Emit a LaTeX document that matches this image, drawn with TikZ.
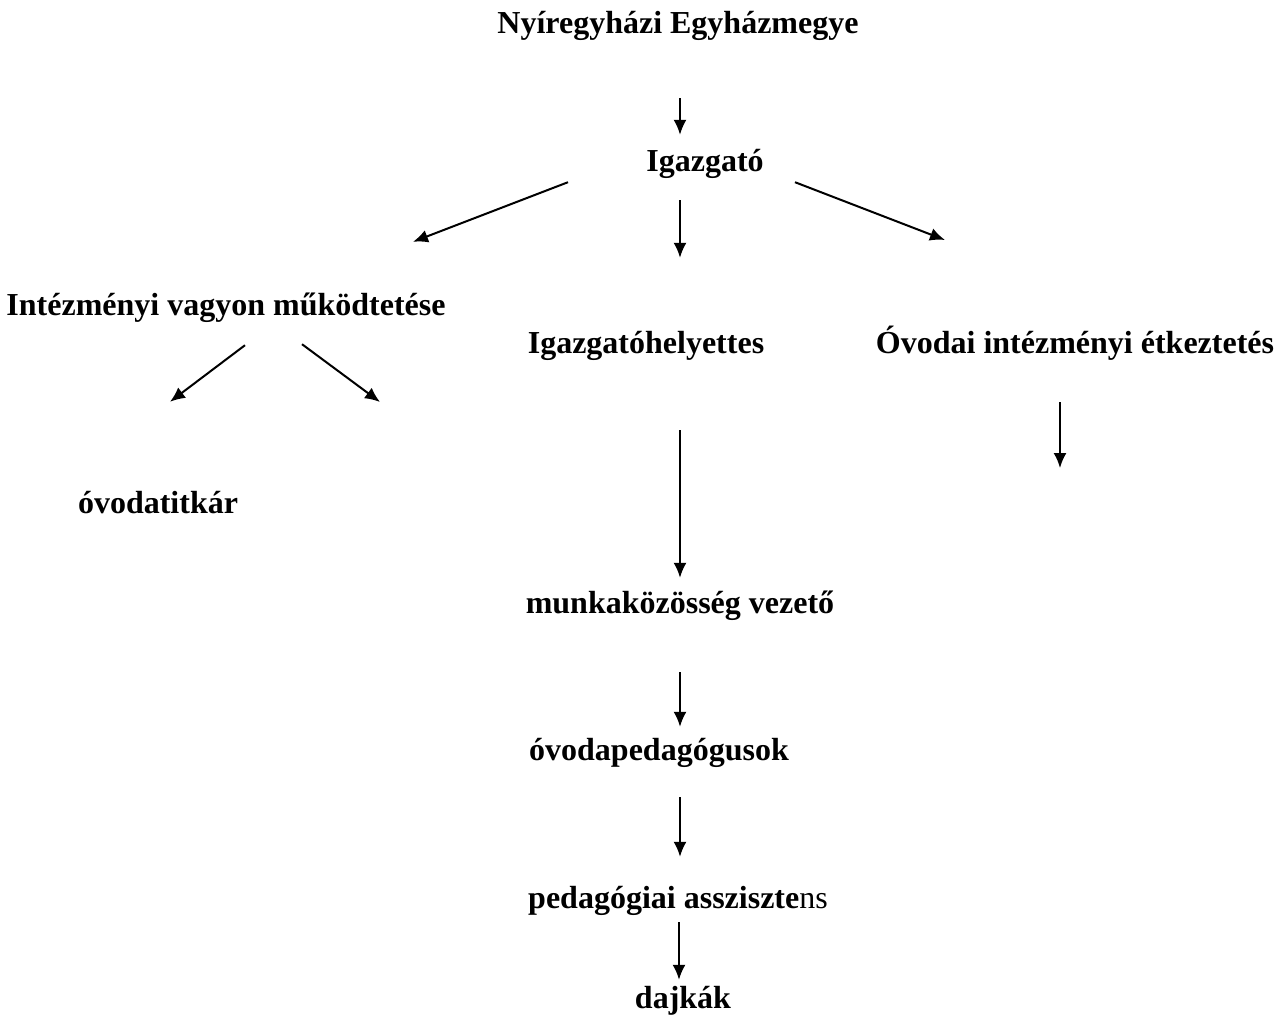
\documentclass[tikz,border=0pt]{standalone}
\usepackage{fontspec}
\setmainfont{Liberation Serif}
\usetikzlibrary{arrows.meta}

\begin{document}
\begin{tikzpicture}[x=1pt,y=-1pt]
            \tikzset{lbl/.style={font=\bfseries\fontsize{32}{38}\selectfont, inner sep=0pt, text height=21pt, text depth=7pt, anchor=base},
            arr/.style={line width=2pt, -{Latex[length=15pt,width=13pt]}}}

            \useasboundingbox (0,0) rectangle (1285,1015);

            \node[lbl] (top) at (678,33) {Nyíregyházi Egyházmegye};
            \node[lbl] (ig) at (705,171) {Igazgató};
            \node[lbl] (int) at (226,315) {Intézményi vagyon működtetése};
            \node[lbl] (hely) at (646,353) {Igazgatóhelyettes};
            \node[lbl] (etk) at (1075,353) {Óvodai intézményi étkeztetés};
            \node[lbl] (titk) at (158,513) {óvodatitkár};
            \node[lbl] (munka) at (680,613) {munkaközösség vezető};
            \node[lbl] (ped) at (659,760) {óvodapedagógusok};
            \node[lbl] (assz) at (678,908) {pedagógiai assziszte\textmd{ns}};
            \node[lbl] (dajk) at (683,1008) {dajkák};

            \coordinate (int-r) at (380,402);
            \coordinate (etk-a) at (945,240);
            \coordinate (etk-d) at (1060,468);

            \draw[arr, shorten <=58pt, shorten >=15pt] ([xshift=2pt]top.south) -- ([xshift=2pt]top.south |- ig.north);
            \draw[arr] ([xshift=-137pt,yshift=-4pt]ig.south) -- ([xshift=187pt,yshift=52pt]int.north);
            \draw[arr, shorten <=22pt, shorten >=74pt] ([xshift=-25pt]ig.south) -- ([xshift=-25pt]ig.south |- hely.north);
            \draw[arr] ([xshift=90pt,yshift=-4pt]ig.south) -- (etk-a);

            \draw[arr] ([xshift=19pt,yshift=-23pt]int.south) -- ([xshift=12pt,yshift=90pt]titk.north);
            \draw[arr] ([xshift=76pt,yshift=-22pt]int.south) -- (int-r);
            \draw[arr] ([xshift=-15pt,yshift=-42pt]etk.south) -- (etk-d);

            \draw[arr, shorten <=70pt, shorten >=14pt] ([xshift=34pt]hely.south) -- ([xshift=34pt]hely.south |- munka.north);
            \draw[arr, shorten <=52pt, shorten >=12pt] (munka.south) -- (munka.south |- ped.north);
            \draw[arr, shorten <=30pt, shorten >=30pt] ([xshift=21pt]ped.south) -- ([xshift=21pt]ped.south |- assz.north);
            \draw[arr, shorten <=7pt, shorten >=7pt] ([xshift=1pt]assz.south) -- ([xshift=1pt]assz.south |- dajk.north);
\end{tikzpicture}
\end{document}
